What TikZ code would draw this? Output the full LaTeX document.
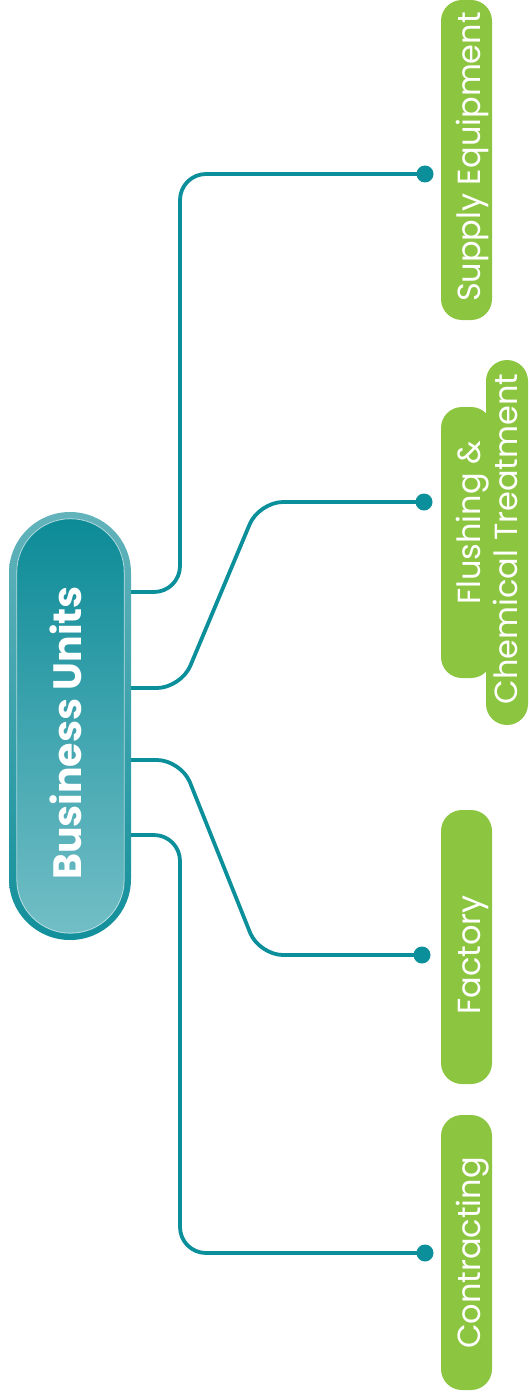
\documentclass[tikz,border=0pt]{standalone}
\usepackage{fontspec}
\setmainfont{Poppins}
\usetikzlibrary{calc}
\definecolor{tealline}{HTML}{0B8F9A}
\definecolor{greenbox}{HTML}{8CC540}
\definecolor{ringtop}{HTML}{63B3BB}
\definecolor{ringbot}{HTML}{12909B}
\definecolor{innertop}{HTML}{0C8B97}
\definecolor{innerbot}{HTML}{72BEC6}
\begin{document}
\begin{tikzpicture}[x=1pt,y=-1pt,
  conn/.style={draw=tealline, line width=3.8pt, rounded corners=26pt},
  dotc/.style={fill=tealline},
  pill/.style={fill=greenbox, rounded corners=21pt, inner sep=0pt, minimum width=51pt},
  lab/.style={text=white, rotate=90, anchor=base, inner sep=0pt, font=\fontsize{32}{38}\selectfont},
  hub/.style={minimum width=122pt, minimum height=428pt, inner sep=0pt, rounded corners=61pt, top color=ringtop, bottom color=ringbot}]
\useasboundingbox (0,0) rectangle (529,1399);

% green boxes
\node[pill, minimum height=320pt] (sup) at (466.5,160) {};
\node[pill, minimum height=271pt] (flu) at (466.5,542.5) {};
\node[pill, minimum width=42pt, minimum height=365pt] (che) at (507,542.5) {};
\node[pill, minimum height=274pt] (fac) at (466.5,947) {};
\node[pill, minimum height=275pt] (con) at (466.5,1252.5) {};

% labels
\node[lab] (tsup) at (480,157) {Supply Equipment};
\node[lab] (tflu) at (480,523) {Flushing \&};
\node[lab] (tche) at (517,539) {Chemical Treatment};
\node[lab] (tfac) at (480,955) {Factory};
\node[lab] (tcon) at (480,1253) {Contracting};

% hub
\node[hub] (bu) at (70,726) {};
\shade[top color=innertop, bottom color=innerbot, rounded corners=53.5pt, draw=white, draw opacity=0.6, line width=0.8pt]
  ([xshift=8pt,yshift=-7pt]bu.north west) rectangle ([xshift=-7pt,yshift=7pt]bu.south east);
\node[text=white, font=\fontsize{39.5}{46}\selectfont\bfseries, inner sep=0pt] (butext) at ([xshift=-4pt,yshift=-7pt]bu.center) {\rotatebox{90}{Business Units}};

% end points
\coordinate (d1) at (425,174);
\coordinate (d2) at (424,502);
\coordinate (d3) at (422,955);
\coordinate (d4) at (425,1253);

% connectors
\draw[conn] ([yshift=134pt]bu.east) -- (180,592) -- (180,174) -- (d1);
\draw[conn, rounded corners=24pt] ([yshift=38pt]bu.east) -- (181,688) -- (259,502) -- (d2);
\draw[conn, rounded corners=24pt] ([yshift=-34pt]bu.east) -- (181,760) -- (259,955) -- (d3);
\draw[conn] ([yshift=-109pt]bu.east) -- (180,835) -- (180,1253) -- (d4);

\fill[dotc] (d1) circle[radius=8.5pt];
\fill[dotc] (d2) circle[radius=8.5pt];
\fill[dotc] (d3) circle[radius=8.5pt];
\fill[dotc] (d4) circle[radius=8.5pt];
\end{tikzpicture}
\end{document}
